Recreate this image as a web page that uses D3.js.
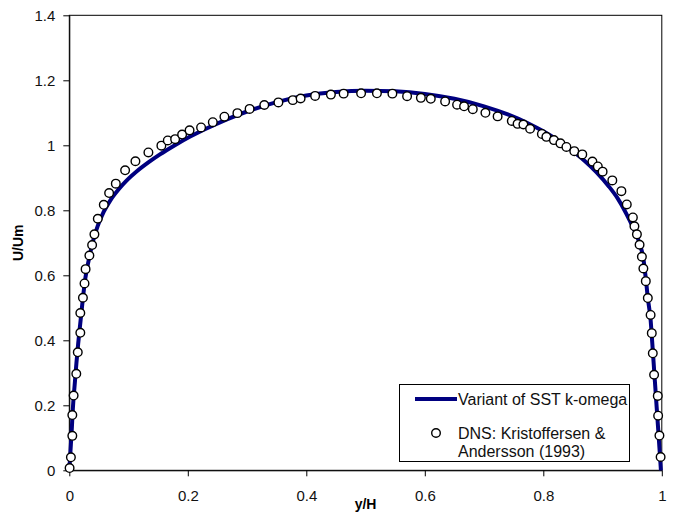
<!DOCTYPE html>
<html>
<head>
<meta charset="utf-8">
<script src="https://cdn.jsdelivr.net/npm/d3@7"></script>
<style>
  body { margin: 0; background: #fff; }
  svg { display: block; }
  text { font-family: "Liberation Sans", Arial, sans-serif; }
</style>
</head>
<body>
<svg id="chart" width="678" height="512"></svg>
<script>
// ---- Data ----
const xTickValues = [0, 0.2, 0.4, 0.6, 0.8, 1];
const xTickLabels = ["0", "0.2", "0.4", "0.6", "0.8", "1"];
const yTickValues = [0, 0.2, 0.4, 0.6, 0.8, 1, 1.2, 1.4];
const yTickLabels = ["0", "0.2", "0.4", "0.6", "0.8", "1", "1.2", "1.4"];

// Model: Variant of SST k-omega
const modelY = [0, 0.002, 0.004, 0.006, 0.008, 0.0096, 0.012, 0.015, 0.019, 0.023, 0.027, 0.032, 0.04, 0.048, 0.058, 0.069, 0.083, 0.097, 0.114, 0.134, 0.153, 0.176, 0.204, 0.226, 0.266, 0.3, 0.35, 0.4, 0.45, 0.5,
  0.55, 0.6, 0.65, 0.7, 0.74, 0.774, 0.8, 0.824, 0.847, 0.87, 0.89, 0.91, 0.925, 0.94, 0.952, 0.963, 0.969, 0.973, 0.9764, 0.981, 0.984, 0.987, 0.99, 0.993, 0.996, 0.9985];
const modelU = [0, 0.06, 0.12, 0.19, 0.24, 0.275, 0.33, 0.39, 0.46, 0.53, 0.59, 0.64, 0.705, 0.752, 0.795, 0.83, 0.864, 0.892, 0.92, 0.948, 0.972, 0.998, 1.027, 1.047, 1.08, 1.104, 1.133, 1.153, 1.164, 1.168,
  1.166, 1.158, 1.143, 1.12, 1.095, 1.068, 1.043, 1.016, 0.986, 0.952, 0.917, 0.875, 0.838, 0.79, 0.745, 0.695, 0.65, 0.59, 0.53, 0.465, 0.39, 0.31, 0.23, 0.15, 0.07, 0];

// DNS: Kristoffersen & Andersson (1993)
const dnsY = [0.0005, 0.0027, 0.0051, 0.0051, 0.0073, 0.0118, 0.0143, 0.0186, 0.0186, 0.0230, 0.0257, 0.0275, 0.0339, 0.0385, 0.0424, 0.0481, 0.0582, 0.0672, 0.0785, 0.0942,
  0.1116, 0.1335, 0.1554, 0.1662, 0.1786, 0.1904, 0.2030, 0.2224, 0.2422, 0.2618, 0.2837, 0.3043, 0.3291, 0.3529, 0.3772, 0.3904, 0.4149, 0.4415, 0.4630, 0.4925,
  0.5192, 0.5453, 0.5701, 0.5934, 0.6101, 0.6343, 0.6545, 0.6663, 0.6810, 0.7023, 0.7229, 0.7468, 0.7566, 0.7664, 0.7777, 0.7976, 0.8052, 0.8179, 0.8289, 0.8390,
  0.8523, 0.8658, 0.8829, 0.8920, 0.9001, 0.9165, 0.9318, 0.9409, 0.9512, 0.9538, 0.9580, 0.9625, 0.9664, 0.9689, 0.9730, 0.9764, 0.9811, 0.9831, 0.9848, 0.9870,
  0.9932, 0.9938, 0.9960, 0.9980];
const dnsU = [0.007, 0.040, 0.106, 0.170, 0.230, 0.297, 0.363, 0.423, 0.484, 0.531, 0.575, 0.619, 0.661, 0.693, 0.726, 0.774, 0.817, 0.853, 0.882, 0.923,
  0.951, 0.978, 0.999, 1.015, 1.019, 1.033, 1.046, 1.055, 1.071, 1.088, 1.099, 1.112, 1.124, 1.132, 1.139, 1.144, 1.152, 1.156, 1.159, 1.160,
  1.160, 1.159, 1.151, 1.146, 1.143, 1.135, 1.125, 1.120, 1.111, 1.100, 1.089, 1.075, 1.066, 1.064, 1.051, 1.035, 1.026, 1.016, 1.006, 0.995,
  0.982, 0.972, 0.950, 0.935, 0.919, 0.892, 0.859, 0.818, 0.778, 0.751, 0.726, 0.694, 0.657, 0.621, 0.582, 0.530, 0.478, 0.422, 0.360, 0.294,
  0.229, 0.168, 0.107, 0.041];

const legendLabels = ["Variant of SST k-omega", "DNS: Kristoffersen &", "Andersson (1993)"];

// ---- Layout ----
const svg = d3.select("#chart");
const plotL = 69.3, plotR = 661.8, plotT = 15.3, plotB = 470.3;

const x = d3.scaleLinear().domain([0, 1]).range([plotL, plotR]);
const y = d3.scaleLinear().domain([0, 1.4]).range([plotB, plotT]);

// plot frame
svg.append("rect")
  .attr("x", plotL).attr("y", plotT)
  .attr("width", plotR - plotL).attr("height", plotB - plotT)
  .attr("fill", "none").attr("stroke", "#000").attr("stroke-width", 1);

// axes
const xAxis = d3.axisBottom(x).tickValues(xTickValues)
  .tickFormat((d, i) => xTickLabels[i]).tickSize(6).tickSizeOuter(0).tickPadding(14);
const gx = svg.append("g").attr("transform", `translate(0,${plotB})`).call(xAxis);

const yAxis = d3.axisLeft(y).tickValues(yTickValues)
  .tickFormat((d, i) => yTickLabels[i]).tickSize(6).tickSizeOuter(0).tickPadding(8);
const gy = svg.append("g").attr("transform", `translate(${plotL},0)`).call(yAxis);

[gx, gy].forEach(g => {
  g.select(".domain").attr("stroke", "#000");
  g.selectAll(".tick line").attr("stroke", "#000");
  g.selectAll(".tick text").attr("fill", "#111")
    .style("font-family", '"Liberation Sans", Arial, sans-serif')
    .style("font-size", "15px");
});

// axis titles
svg.append("text")
  .attr("x", (plotL + plotR) / 2).attr("y", 509)
  .attr("text-anchor", "middle")
  .style("font-size", "14px").style("font-weight", "bold")
  .text("y/H");
svg.append("text")
  .attr("transform", `translate(23,${(plotT + plotB) / 2}) rotate(-90)`)
  .attr("text-anchor", "middle")
  .style("font-size", "14px").style("font-weight", "bold")
  .text("U/Um");

// model line
const modelData = modelY.map((v, i) => [v, modelU[i]]);
const line = d3.line().x(d => x(d[0])).y(d => y(d[1])).curve(d3.curveMonotoneX);
svg.append("path")
  .datum(modelData)
  .attr("d", line)
  .attr("fill", "none")
  .attr("stroke", "#000080")
  .attr("stroke-width", 4)
  .attr("stroke-linejoin", "round");

// DNS circles
const dnsData = dnsY.map((v, i) => [v, dnsU[i]]);
svg.append("g").selectAll("circle")
  .data(dnsData).join("circle")
  .attr("cx", d => x(d[0])).attr("cy", d => y(d[1]))
  .attr("r", 4.3)
  .attr("fill", "#fff").attr("stroke", "#000").attr("stroke-width", 1.4);

// legend
const lg = svg.append("g");
lg.append("rect")
  .attr("x", 399.5).attr("y", 384.5).attr("width", 230).attr("height", 77)
  .attr("fill", "#fff").attr("stroke", "#000").attr("stroke-width", 1);
lg.append("line")
  .attr("x1", 415).attr("x2", 457).attr("y1", 399).attr("y2", 399)
  .attr("stroke", "#000080").attr("stroke-width", 4);
lg.append("circle")
  .attr("cx", 436).attr("cy", 433).attr("r", 4.3)
  .attr("fill", "#fff").attr("stroke", "#000").attr("stroke-width", 1.4);
const ly = [404.8, 438.8, 457.3];
legendLabels.forEach((t, i) => {
  lg.append("text")
    .attr("x", 458).attr("y", ly[i])
    .style("font-size", "16px").attr("fill", "#111")
    .text(t);
});
</script>
</body>
</html>
